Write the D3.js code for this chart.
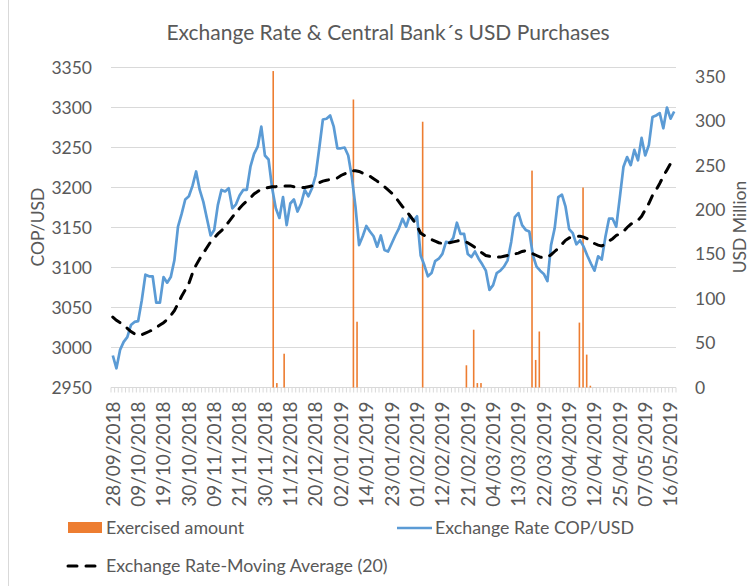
<!DOCTYPE html>
<html lang="en">
<head>
<meta charset="UTF-8">
<title>Exchange Rate & Central Bank´s USD Purchases</title>
<script src="https://cdnjs.cloudflare.com/ajax/libs/d3/7.8.5/d3.min.js"></script>
<style>
  body { margin: 0; background: #fff; }
  svg text { font-family: Lato, "Open Sans", sans-serif; fill: #595959; }
</style>
</head>
<body>
<div id="chart"></div>
<script>
// trading days shown on the category axis
const dates = [
  "28/09/2018",
  "01/10/2018","02/10/2018","03/10/2018","04/10/2018","05/10/2018","08/10/2018","09/10/2018","10/10/2018","11/10/2018","12/10/2018",
  "16/10/2018","17/10/2018","18/10/2018","19/10/2018","22/10/2018","23/10/2018","24/10/2018","25/10/2018","26/10/2018","29/10/2018","30/10/2018","31/10/2018",
  "01/11/2018","02/11/2018","06/11/2018","07/11/2018","08/11/2018","09/11/2018","13/11/2018","14/11/2018","15/11/2018","16/11/2018",
  "19/11/2018","20/11/2018","21/11/2018","22/11/2018","23/11/2018","26/11/2018","27/11/2018","28/11/2018","29/11/2018","30/11/2018",
  "03/12/2018","04/12/2018","05/12/2018","06/12/2018","07/12/2018","10/12/2018","11/12/2018","12/12/2018","13/12/2018","14/12/2018",
  "17/12/2018","18/12/2018","19/12/2018","20/12/2018","21/12/2018","24/12/2018","26/12/2018","27/12/2018","28/12/2018","31/12/2018",
  "02/01/2019","03/01/2019","04/01/2019","08/01/2019","09/01/2019","10/01/2019","11/01/2019","14/01/2019","15/01/2019","16/01/2019","17/01/2019",
  "18/01/2019","21/01/2019","22/01/2019","23/01/2019","24/01/2019","25/01/2019","28/01/2019","29/01/2019","30/01/2019","31/01/2019",
  "01/02/2019","04/02/2019","05/02/2019","06/02/2019","07/02/2019","08/02/2019","11/02/2019","12/02/2019","13/02/2019","14/02/2019",
  "15/02/2019","18/02/2019","19/02/2019","20/02/2019","21/02/2019","22/02/2019","25/02/2019","26/02/2019","27/02/2019","28/02/2019",
  "01/03/2019","04/03/2019","05/03/2019","06/03/2019","07/03/2019","08/03/2019","11/03/2019","12/03/2019","13/03/2019","14/03/2019",
  "15/03/2019","18/03/2019","19/03/2019","20/03/2019","21/03/2019","22/03/2019","26/03/2019","27/03/2019","28/03/2019","29/03/2019",
  "01/04/2019","02/04/2019","03/04/2019","04/04/2019","05/04/2019","08/04/2019","09/04/2019","10/04/2019","11/04/2019","12/04/2019",
  "15/04/2019","16/04/2019","17/04/2019","22/04/2019","23/04/2019","24/04/2019","25/04/2019","26/04/2019","29/04/2019","30/04/2019",
  "02/05/2019","03/05/2019","06/05/2019","07/05/2019","08/05/2019","09/05/2019","10/05/2019","13/05/2019","14/05/2019","15/05/2019",
  "16/05/2019","17/05/2019"
];

// Exchange Rate COP/USD
const rate = [
  2990, 2974, 2997, 3007, 3013, 3028, 3032, 3033, 3059, 3091,
  3089, 3089, 3056, 3056, 3088, 3081, 3088, 3109, 3151, 3167,
  3185, 3189, 3202, 3220, 3197, 3182, 3161, 3140, 3147, 3178,
  3197, 3195, 3199, 3174, 3179, 3190, 3197, 3197, 3226, 3242,
  3251, 3276, 3240, 3235, 3199, 3174, 3162, 3188, 3153, 3180,
  3185, 3170, 3180, 3197, 3189, 3199, 3215, 3249, 3285, 3286,
  3290, 3276, 3249, 3249, 3250, 3240, 3213, 3176, 3128, 3139,
  3152, 3145, 3139, 3126, 3140, 3122, 3120, 3130, 3140, 3149,
  3161, 3151, 3165, 3158, 3164, 3115, 3103, 3089, 3093, 3108,
  3111, 3117, 3132, 3131, 3137, 3156, 3142, 3142, 3117, 3113,
  3120, 3111, 3104, 3096, 3072, 3078, 3093, 3096, 3101, 3109,
  3132, 3163, 3168, 3153, 3147, 3145, 3115, 3101, 3096, 3092,
  3083, 3128, 3149, 3188, 3191, 3176, 3148, 3143, 3129, 3134,
  3126, 3115, 3105, 3096, 3114, 3110, 3138, 3161, 3161, 3151,
  3188, 3226, 3238, 3228, 3247, 3234, 3262, 3240, 3253, 3288,
  3290, 3293, 3274, 3300, 3286, 3295
];

// Exchange Rate-Moving Average (20)
const movingAvg = [
  3038, 3034, 3031, 3028, 3024, 3020, 3017, 3015, 3016, 3018,
  3020, 3022, 3025, 3028, 3031, 3035, 3040, 3046, 3055, 3064,
  3072, 3080, 3093, 3103, 3111, 3118, 3125, 3132, 3137, 3142,
  3146, 3151, 3157, 3163, 3169, 3174, 3179, 3183, 3187, 3192,
  3195, 3198, 3199, 3200, 3201, 3201, 3202, 3202, 3202, 3202,
  3201, 3201, 3200, 3200, 3201, 3202, 3204, 3206, 3208, 3209,
  3210, 3211, 3212, 3215, 3217, 3219, 3221, 3221, 3220, 3218,
  3216, 3214, 3211, 3208, 3204, 3201, 3197, 3193, 3188, 3182,
  3176, 3171, 3165, 3159, 3152, 3143, 3140, 3137, 3135, 3133,
  3131, 3130, 3130, 3131, 3132, 3133, 3134, 3133, 3131, 3128,
  3125, 3122, 3118, 3115, 3114, 3113, 3113, 3113, 3114, 3115,
  3116, 3117, 3118, 3120, 3121, 3119, 3117, 3115, 3113, 3112,
  3113, 3116, 3120, 3124, 3129, 3134, 3137, 3138, 3139, 3139,
  3138, 3136, 3132, 3130, 3128, 3127, 3129, 3133, 3136, 3140,
  3142, 3145, 3150, 3154, 3157, 3159, 3164, 3172, 3180, 3190,
  3197, 3205, 3214, 3222, 3230, 3238
];

// Exercised amount (USD Million)
const exercisedDates = [
  "04/12/2018","05/12/2018","07/12/2018","08/01/2019","09/01/2019","04/02/2019",
  "20/02/2019","22/02/2019","25/02/2019","26/02/2019","18/03/2019","19/03/2019",
  "20/03/2019","05/04/2019","08/04/2019","09/04/2019","10/04/2019"
];
const exercisedValues = [356, 5, 38, 324, 74, 299, 25, 65, 5, 5, 244, 31, 63, 73, 225, 37, 2];

const leftTicks = [2950, 3000, 3050, 3100, 3150, 3200, 3250, 3300, 3350];
const rightTicks = [0, 50, 100, 150, 200, 250, 300, 350];

const width = 756, height = 586;
const plot = { left: 111, right: 676, top: 67.5, bottom: 387.5 };

const svg = d3.select("#chart").append("svg")
  .attr("width", width)
  .attr("height", height);

// outer chart frame
svg.append("rect")
  .attr("x", 8.5).attr("y", -2)
  .attr("width", 760).attr("height", 600)
  .attr("fill", "none")
  .attr("stroke", "#d9d9d9");

const x = d3.scaleBand().domain(dates).range([plot.left, plot.right]);
// bars sit on their own category axis
const xb = d3.scaleBand().domain(dates.slice(0, 155)).range([plot.left, plot.right]);
const yL = d3.scaleLinear().domain([2950, 3350]).range([plot.bottom, plot.top]);
const yR = d3.scaleLinear().domain([0, 360]).range([plot.bottom, plot.top]);
const cx = d => x(d) + x.bandwidth() / 2;

// gridlines
svg.append("g")
  .selectAll("line")
  .data(leftTicks.slice(1))
  .enter().append("line")
  .attr("x1", plot.left).attr("x2", plot.right)
  .attr("y1", d => yL(d)).attr("y2", d => yL(d))
  .attr("stroke", "#d9d9d9")
  .attr("stroke-width", 1.2);

// category axis with a tick between every day
const xAxis = svg.append("g")
  .attr("transform", `translate(0,${plot.bottom})`);
xAxis.append("line")
  .attr("x1", plot.left).attr("x2", plot.right)
  .attr("stroke", "#d9d9d9").attr("stroke-width", 1.2);
xAxis.selectAll("line.tk")
  .data(dates.concat(["end"]))
  .enter().append("line")
  .attr("class", "tk")
  .attr("x1", (d, i) => i < dates.length ? x(d) : plot.right)
  .attr("x2", (d, i) => i < dates.length ? x(d) : plot.right)
  .attr("y1", 0).attr("y2", 5)
  .attr("stroke", "#d9d9d9");

const labelDates = dates.filter((d, i) => i % 7 === 0);
xAxis.selectAll("text")
  .data(labelDates)
  .enter().append("text")
  .attr("transform", d => `translate(${cx(d)},14) rotate(-90)`)
  .attr("dy", "0.36em")
  .attr("text-anchor", "end")
  .attr("font-size", "19px")
  .text(d => d);

// bars
svg.append("g")
  .selectAll("rect")
  .data(exercisedDates)
  .enter().append("rect")
  .attr("x", d => xb(d) + xb.bandwidth() / 2 - 0.8)
  .attr("width", 1.6)
  .attr("y", (d, i) => yR(exercisedValues[i]))
  .attr("height", (d, i) => plot.bottom - yR(exercisedValues[i]))
  .attr("fill", "#ed7d31");

// lines
const lineRate = d3.line().x((d, i) => cx(dates[i])).y(d => yL(d));
svg.append("path")
  .datum(rate)
  .attr("d", lineRate)
  .attr("fill", "none")
  .attr("stroke", "#5b9bd5")
  .attr("stroke-width", 2.7)
  .attr("stroke-linejoin", "round");

svg.append("path")
  .datum(movingAvg)
  .attr("d", lineRate)
  .attr("fill", "none")
  .attr("stroke", "#000")
  .attr("stroke-width", 3)
  .attr("stroke-dasharray", "9,9")
  .attr("stroke-linecap", "round");

// axes labels
svg.append("g")
  .selectAll("text")
  .data(leftTicks)
  .enter().append("text")
  .attr("x", 92).attr("y", d => yL(d))
  .attr("dy", "0.36em")
  .attr("text-anchor", "end")
  .attr("font-size", "17.5px")
  .text(d => d);

svg.append("g")
  .selectAll("text")
  .data(rightTicks)
  .enter().append("text")
  .attr("x", 695).attr("y", d => yR(d))
  .attr("dy", "0.36em")
  .attr("font-size", "17.5px")
  .text(d => d);

svg.append("text")
  .attr("transform", "translate(38,227) rotate(-90)")
  .attr("dy", "0.36em")
  .attr("text-anchor", "middle")
  .attr("font-size", "17.5px")
  .text("COP/USD");

svg.append("text")
  .attr("transform", "translate(740,227) rotate(-90)")
  .attr("dy", "0.36em")
  .attr("text-anchor", "middle")
  .attr("font-size", "17.5px")
  .text("USD Million");

svg.append("text")
  .attr("x", 388).attr("y", 32)
  .attr("dy", "0.36em")
  .attr("text-anchor", "middle")
  .attr("font-size", "21px")
  .text("Exchange Rate & Central Bank´s USD Purchases");

// legend
const legend = svg.append("g").attr("font-size", "17.8px");
legend.append("rect")
  .attr("x", 68).attr("y", 522).attr("width", 34).attr("height", 11)
  .attr("fill", "#ed7d31");
legend.append("text").attr("x", 106).attr("y", 528).attr("dy", "0.36em")
  .text("Exercised amount");

legend.append("line")
  .attr("x1", 397).attr("x2", 432).attr("y1", 528).attr("y2", 528)
  .attr("stroke", "#5b9bd5").attr("stroke-width", 2.7);
legend.append("text").attr("x", 435).attr("y", 528).attr("dy", "0.36em")
  .text("Exchange Rate COP/USD");

legend.append("line")
  .attr("x1", 68).attr("x2", 102).attr("y1", 566).attr("y2", 566)
  .attr("stroke", "#000").attr("stroke-width", 3)
  .attr("stroke-dasharray", "9,9")
  .attr("stroke-linecap", "round");
legend.append("text").attr("x", 106).attr("y", 566).attr("dy", "0.36em")
  .text("Exchange Rate-Moving Average (20)");
</script>
</body>
</html>
